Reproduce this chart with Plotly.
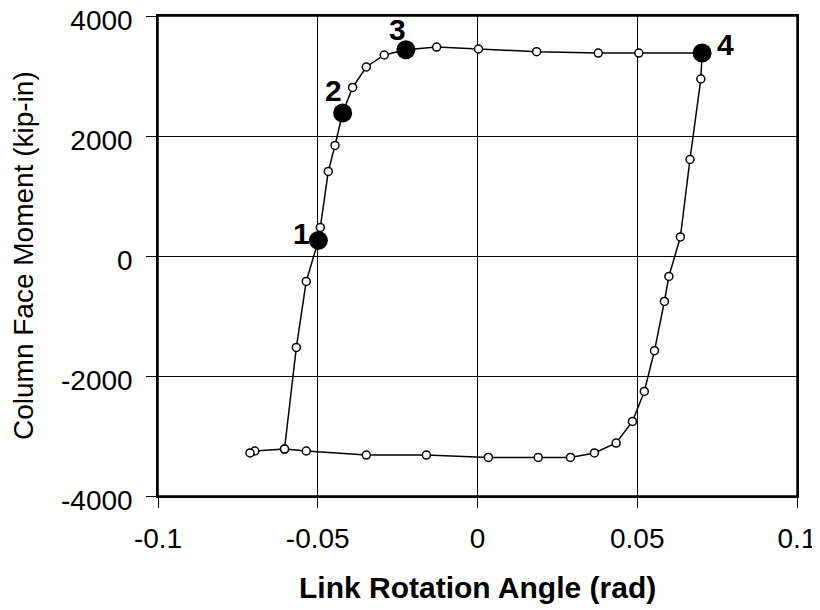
import plotly.graph_objects as go

# Hysteresis loop (open markers)
x_main = [-0.0604, -0.0567, -0.0536, -0.0498, -0.0492, -0.0467, -0.0446, -0.0422,
          -0.0391, -0.0348, -0.0292, -0.0224, -0.0128, 0.0003, 0.0185, 0.0378,
          0.0505, 0.0703, 0.0699, 0.0665, 0.0635, 0.0599, 0.0585, 0.0554, 0.0522,
          0.0485, 0.0434, 0.0366, 0.0291, 0.0190, 0.0034, -0.0160, -0.0348,
          -0.0536, -0.0604, -0.0697, -0.0712]
y_main = [-3217, -1523, -423, 260, 477, 1410, 1843, 2383,
          2810, 3150, 3350, 3438, 3483, 3450, 3405, 3383,
          3383, 3383, 2950, 1610, 317, -340, -757, -1578, -2257,
          -2757, -3117, -3283, -3357, -3357, -3357, -3317, -3317,
          -3250, -3217, -3250, -3283]

# Highlighted points
x_key = [-0.0498, -0.0422, -0.0224, 0.0703]
y_key = [260, 2383, 3438, 3383]
key_labels = ["1", "2", "3", "4"]

x_ticks = [-0.1, -0.05, 0, 0.05, 0.1]
x_tick_text = ["-0.1", "-0.05", "0", "0.05", "0.1"]
y_ticks = [-4000, -2000, 0, 2000, 4000]
y_tick_text = ["-4000", "-2000", "0", "2000", "4000"]

FONT = "Liberation Sans, Arial, sans-serif"

fig = go.Figure()
fig.add_trace(go.Scatter(
    x=x_main, y=y_main, mode="lines+markers",
    line=dict(color="black", width=1.5),
    marker=dict(symbol="circle", size=8, color="white",
                line=dict(color="black", width=1.5)),
    showlegend=False, hoverinfo="x+y", cliponaxis=False))
fig.add_trace(go.Scatter(
    x=x_key, y=y_key, mode="markers",
    marker=dict(symbol="circle", size=19, color="black"),
    showlegend=False, hoverinfo="x+y", cliponaxis=False))

label_shift = [(-17, 7), (-9, 23), (-8.5, 20), (23, 8.5)]
for xv, yv, t, (dx, dy) in zip(x_key, y_key, key_labels, label_shift):
    fig.add_annotation(x=xv, y=yv, text=t, showarrow=False,
                       xshift=dx, yshift=dy, xanchor="center", yanchor="middle",
                       font=dict(family=FONT, size=30, color="black", weight="bold"))

fig.add_annotation(xref="paper", yref="paper", x=0.5, y=0, yshift=-91,
                   xanchor="center", yanchor="middle", showarrow=False,
                   text="<b>Link Rotation Angle (rad)</b>",
                   font=dict(family=FONT, size=30, color="black"))
fig.add_annotation(xref="paper", yref="paper", x=0, y=0.5, xshift=-135,
                   xanchor="center", yanchor="middle", showarrow=False,
                   textangle=-90, text="Column Face Moment (kip-in)",
                   font=dict(family=FONT, size=28, color="black"))

# plot-area frame
fig.add_shape(type="rect", xref="paper", yref="paper", x0=0, y0=0, x1=1, y1=1,
              line=dict(color="black", width=1.5), fillcolor="rgba(0,0,0,0)",
              layer="above")

axis_common = dict(showline=True, linecolor="black", linewidth=1.5, mirror=True,
                   showgrid=True, gridcolor="black", gridwidth=1,
                   zeroline=False, ticks="outside", ticklen=10, tickwidth=1,
                   tickcolor="black", automargin=False, ticklabeloverflow="allow",
                   tickfont=dict(family=FONT, size=28, color="black"))

fig.update_xaxes(range=[-0.1, 0.1], tickvals=x_ticks, ticktext=x_tick_text,
                 ticklabelstandoff=7, **axis_common)
fig.update_yaxes(range=[-4000, 4000], tickvals=y_ticks, ticktext=y_tick_text,
                 ticklabelstandoff=8, ticklabelshift=4, **axis_common)

# page body has an 8px default margin, so the figure is 8px smaller
fig.update_layout(width=812, height=602, plot_bgcolor="white", paper_bgcolor="white",
                  margin=dict(l=150, r=23, t=8, b=114, pad=0),
                  font=dict(family=FONT, color="black"))

fig.write_html("out.html")
